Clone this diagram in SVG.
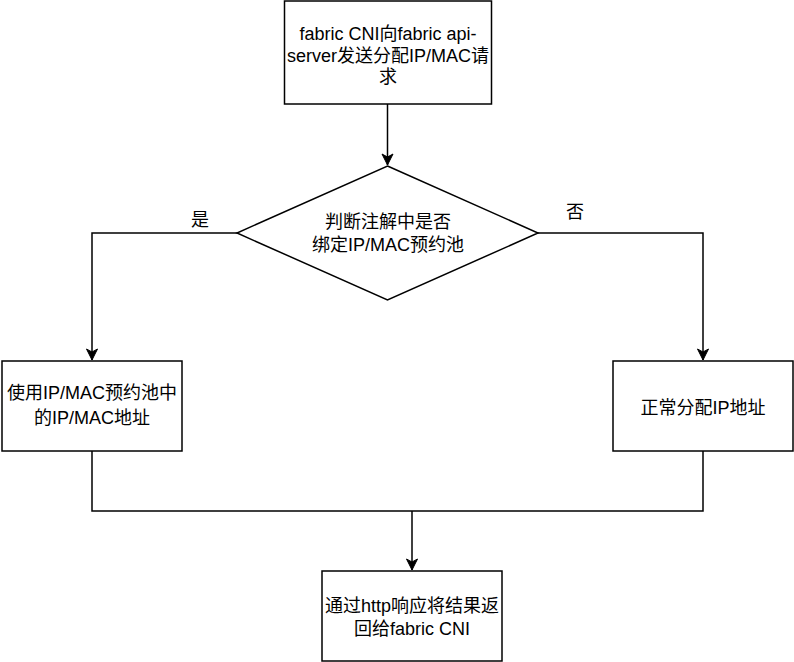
<svg xmlns="http://www.w3.org/2000/svg" width="794" height="662" viewBox="0 0 794 662">
<defs>
<style>
.box{fill:#fff;stroke:#000;stroke-width:1.5}
.edge{fill:none;stroke:#000;stroke-width:1.5}
text{font-family:"Liberation Sans","Noto Sans CJK SC",sans-serif;font-size:18px;fill:#000;text-anchor:middle}
</style>
<marker id="arr" markerUnits="userSpaceOnUse" markerWidth="14" markerHeight="14" viewBox="0 0 14 14" refX="12" refY="7" orient="auto">
<path d="M1,1.5 L12,7 L1,12.5 L4,7 Z" fill="#000" stroke="#000" stroke-width="1"/>
</marker>
</defs>
<rect width="794" height="662" fill="#fff"/>
<g id="connectors">
<path class="edge" d="M387.5,104 L387.5,165" marker-end="url(#arr)"/>
<path class="edge" d="M237,233 L92,233 L92,360" marker-end="url(#arr)"/>
<path class="edge" d="M538,233 L703,233 L703,360" marker-end="url(#arr)"/>
<path class="edge" d="M92,451 L92,511 L703,511 L703,451"/>
<path class="edge" d="M412,511 L412,570" marker-end="url(#arr)"/>
</g>
<g id="node-start">
<rect class="box" x="284.5" y="1" width="207" height="103"/>
<text x="388" y="40">fabric CNI向fabric api-</text>
<text x="388" y="62">server发送分配IP/MAC请</text>
<text x="388" y="83">求</text>
</g>
<g id="node-decision">
<path class="box" d="M387.5,166 L538,233 L387.5,300 L237,233 Z"/>
<text x="388" y="228">判断注解中是否</text>
<text x="388" y="251">绑定IP/MAC预约池</text>
</g>
<g id="label-yes"><text x="200" y="226">是</text></g>
<g id="label-no"><text x="575" y="218">否</text></g>
<g id="node-pool">
<rect class="box" x="2" y="361" width="180" height="90"/>
<text x="92" y="399">使用IP/MAC预约池中</text>
<text x="92" y="424">的IP/MAC地址</text>
</g>
<g id="node-normal">
<rect class="box" x="613" y="361" width="180" height="90"/>
<text x="703" y="414">正常分配IP地址</text>
</g>
<g id="node-return">
<rect class="box" x="322" y="571" width="180" height="90"/>
<text x="412" y="612">通过http响应将结果返</text>
<text x="412" y="635">回给fabric CNI</text>
</g>
</svg>
